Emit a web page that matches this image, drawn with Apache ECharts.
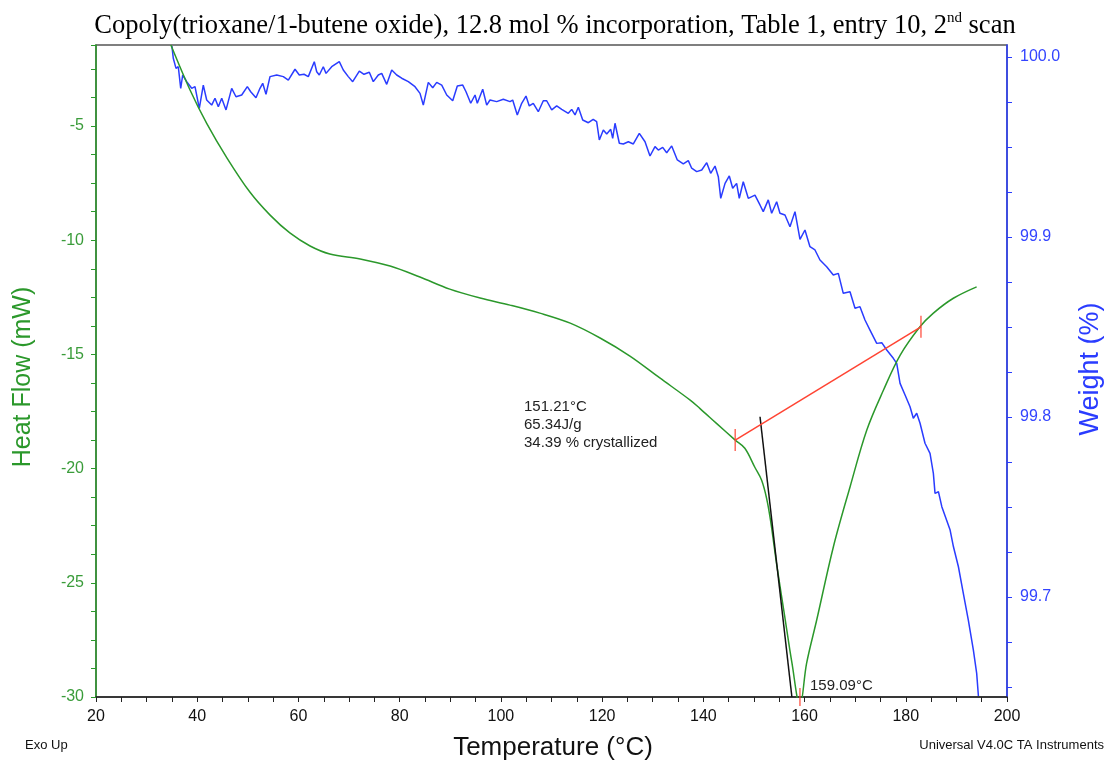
<!DOCTYPE html>
<html><head><meta charset="utf-8">
<script src="https://cdn.jsdelivr.net/npm/echarts@6/dist/echarts.min.js"></script>
<style>html,body{margin:0;padding:0;background:#fff}#c{width:1110px;height:767px}</style>
</head><body><div id="c"></div>
<script>
// Heat flow (mW) vs temperature (°C)
const heatT = [34.8, 38.58, 41.87, 45.89, 50.4, 54.4, 58.3, 62.3, 66.2, 72.2, 78.1, 84.0, 89.9, 95.9, 101.8, 107.7, 113.7, 119.6, 125.5, 131.4, 137.4, 139.3, 142.6, 146.3, 148.2, 150.2, 151.5, 152.5, 153.3, 154.5, 156.1, 157.5, 159.09, 160.4, 162.4, 165.7, 169.0, 172.3, 175.6, 178.9, 182.8, 185.4, 189.4, 194.0];
const heatV = [-1.45, -3.42, -4.88, -6.40, -7.89, -8.9, -9.68, -10.25, -10.6, -10.82, -11.13, -11.61, -12.14, -12.53, -12.84, -13.19, -13.63, -14.28, -15.07, -16.03, -17.0, -17.36, -18.02, -18.75, -19.11, -19.95, -20.5, -21.3, -22.3, -24.2, -26.5, -28.5, -30.4, -28.53, -26.63, -23.42, -20.79, -18.31, -16.56, -15.03, -13.79, -13.2, -12.54, -12.04];

// Weight (%) vs temperature (°C)
const weightT = [35.0, 35.27, 35.81, 36.26, 36.74, 37.13, 37.92, 38.91, 39.56, 40.41,
 41.20, 41.87, 42.86, 43.51, 44.17, 44.84, 45.69, 46.81, 47.66, 48.79,
 49.90, 50.57, 51.61, 52.40, 52.94, 53.59, 54.38, 55.71, 57.01, 58.00,
 59.32, 60.17, 61.10, 61.95, 63.13, 63.61, 64.12, 64.91, 65.45, 66.57,
 68.07, 68.86, 69.85, 70.72, 72.03, 72.95, 74.00, 74.79, 75.78, 76.45,
 77.44, 78.43, 79.42, 80.40, 81.71, 83.03, 84.02, 84.67, 85.66, 86.53,
 87.32, 88.31, 89.30, 90.48, 91.39, 92.46, 93.11, 94.04, 94.89, 95.34,
 96.41, 97.20, 97.85, 99.17, 100.48, 101.80, 102.33, 103.24, 104.11, 104.96,
 105.61, 106.40, 107.39, 108.38, 109.05, 110.04, 111.03, 112.02, 113.32, 113.99,
 114.65, 115.30, 116.17, 117.28, 118.24, 118.92, 119.45, 120.24, 120.91, 121.70,
 122.09, 122.55, 123.40, 124.19, 125.18, 126.17, 127.35, 128.48, 129.46, 130.45,
 131.11, 131.97, 132.76, 133.75, 134.86, 136.04, 137.03, 137.70, 138.69, 139.68,
 140.67, 141.45, 142.31, 142.96, 143.44, 144.29, 145.13, 145.80, 146.58, 147.10,
 147.89, 148.88, 150.20, 151.19, 151.84, 152.83, 153.50, 154.49, 155.14, 156.13,
 157.12, 158.11, 159.10, 160.08, 161.07, 162.06, 163.05, 164.37, 165.68, 166.67,
 167.65, 168.98, 169.97, 170.95, 171.94, 172.93, 174.26, 175.25, 176.24, 177.54,
 178.21, 178.87, 179.86, 180.84, 181.49, 182.16, 182.82, 183.80, 184.79, 185.45,
 185.78, 186.45, 187.12, 188.76, 189.42, 190.40, 191.37, 192.36, 193.35, 194.01,
 194.35];
const weightV = [100.006, 99.9993, 99.9937, 99.9946, 99.9826, 99.9900, 99.9863, 99.9826, 99.9835, 99.9715,
 99.9844, 99.9761, 99.9733, 99.9771, 99.9724, 99.9771, 99.9706, 99.9826, 99.9779, 99.9789,
 99.9835, 99.9807, 99.9774, 99.9826, 99.9854, 99.9793, 99.9891, 99.9900, 99.9891, 99.9872,
 99.9932, 99.9900, 99.9904, 99.9891, 99.9974, 99.9918, 99.9900, 99.9946, 99.9909, 99.9946,
 99.9974, 99.9928, 99.9891, 99.9863, 99.9922, 99.9904, 99.9915, 99.9863, 99.9900, 99.9909,
 99.9848, 99.9928, 99.9900, 99.9882, 99.9863, 99.9835, 99.9798, 99.9733, 99.9859, 99.9829,
 99.9859, 99.9844, 99.9789, 99.9757, 99.9839, 99.9844, 99.9807, 99.9743, 99.9789, 99.9743,
 99.9821, 99.9733, 99.9761, 99.9752, 99.9765, 99.9752, 99.9761, 99.9678, 99.9743, 99.9783,
 99.9728, 99.9743, 99.9696, 99.9757, 99.9757, 99.9706, 99.9728, 99.9709, 99.9687, 99.9709,
 99.9678, 99.9721, 99.9650, 99.9635, 99.9654, 99.9641, 99.9539, 99.9594, 99.9572, 99.9598,
 99.9548, 99.9632, 99.9521, 99.9517, 99.9529, 99.9517, 99.9576, 99.9529, 99.9450, 99.9502,
 99.9483, 99.9498, 99.9468, 99.9506, 99.9428, 99.9406, 99.9424, 99.9382, 99.9363, 99.9372,
 99.9413, 99.9354, 99.9394, 99.9335, 99.9215, 99.9298, 99.9339, 99.9271, 99.9298, 99.9215,
 99.9307, 99.9215, 99.9233, 99.9178, 99.9141, 99.9206, 99.9132, 99.9196, 99.9132, 99.9122,
 99.9057, 99.9141, 99.8987, 99.9039, 99.8946, 99.8928, 99.8872, 99.8835, 99.8789, 99.8798,
 99.8687, 99.8696, 99.8604, 99.8613, 99.8539, 99.8483, 99.8409, 99.8413, 99.8372, 99.8326,
 99.8298, 99.8187, 99.8122, 99.8057, 99.7993, 99.8021, 99.7965, 99.7854, 99.7798, 99.7687,
 99.7576, 99.7585, 99.7502, 99.7372, 99.7279, 99.7168, 99.7020, 99.6872, 99.6706, 99.6576,
 99.645];

// Analysis marks
const baselineT = [146.3, 183.0];
const baselineV = [-18.75, -13.79];
const tangentT = [151.2, 157.5];
const tangentV = [-17.73, -30.0];
const peakT = [159.09];
const peakV = [-30.0];

// Texts
const titleMain = 'Copoly(trioxane/1-butene oxide), 12.8 mol % incorporation, Table 1, entry 10, 2';
const titleSup = 'nd';
const titleEnd = ' scan';
const onsetText = ['151.21°C', '65.34J/g', '34.39 % crystallized'];
const peakText = '159.09°C';
const xName = 'Temperature (°C)';
const yLeftName = 'Heat Flow (mW)';
const yRightName = 'Weight (%)';
const cornerLeft = 'Exo Up';
const cornerRight = 'Universal V4.0C TA Instruments';

const zip = (a, b) => a.map((v, i) => [v, b[i]]);
const GREEN = '#2b982b', BLUE = '#2a3cff', RED = '#ff4433';
const SANS = '"Liberation Sans", Arial, sans-serif';
const SERIF = '"Liberation Serif", "Times New Roman", serif';

const chart = echarts.init(document.getElementById('c'), null, {renderer: 'canvas'});
const option = {
  animation: false,
  backgroundColor: '#fff',
  title: {
    left: 'center', top: 6,
    text: '{a|' + titleMain + '}{s|' + titleSup + '}{a|' + titleEnd + '}',
    textStyle: {
      fontWeight: 'normal',
      rich: {
        a: {fontFamily: SERIF, fontSize: 26.5, fontWeight: 'normal', color: '#000', lineHeight: 30},
        s: {fontFamily: SERIF, fontSize: 15, fontWeight: 'normal', color: '#000', verticalAlign: 'top', lineHeight: 15}
      }
    }
  },
  grid: [
    {left: 96, right: 103, top: 45, bottom: 70, show: true, borderColor: '#555', borderWidth: 1.5, backgroundColor: 'transparent'},
    {left: 96, right: 103, top: 57, bottom: 80}
  ],
  xAxis: [
    {gridIndex: 0, type: 'value', min: 20, max: 200, interval: 5,
     axisLine: {show: true, lineStyle: {color: '#222', width: 1.5}},
     axisTick: {show: true, length: 5, lineStyle: {color: '#222'}},
     axisLabel: {formatter: v => (Math.abs(v % 20) < 1e-6 ? String(v) : ''), color: '#111', fontSize: 16, fontFamily: SANS, margin: 12},
     splitLine: {show: false}},
    {gridIndex: 1, type: 'value', min: 20, max: 200, show: false}
  ],
  yAxis: [
    {gridIndex: 0, type: 'value', position: 'left', min: -30, max: -1.45, interval: 1.25,
     axisLine: {show: true, lineStyle: {color: GREEN, width: 1.5}},
     axisTick: {show: true, length: 5, lineStyle: {color: GREEN}},
     axisLabel: {formatter: v => (Math.abs(v / 5 - Math.round(v / 5)) < 1e-6 ? String(Math.round(v)) : ''), color: '#3a9c3a', fontSize: 16, fontFamily: SANS, margin: 12},
     splitLine: {show: false}},
    {gridIndex: 0, type: 'value', position: 'right', min: 0, max: 1,
     axisLine: {show: true, lineStyle: {color: BLUE, width: 1.5}},
     axisTick: {show: false}, axisLabel: {show: false}, splitLine: {show: false}},
    {gridIndex: 1, type: 'value', position: 'right', min: 99.65, max: 100.0, interval: 0.025,
     axisLine: {show: false},
     axisTick: {show: true, length: 5, lineStyle: {color: BLUE}},
     axisLabel: {formatter: v => (Math.abs(v * 10 - Math.round(v * 10)) < 1e-6 ? v.toFixed(1) : ''), color: '#3344ff', fontSize: 16, fontFamily: SANS, margin: 13},
     splitLine: {show: false}}
  ],
  series: [
    {type: 'line', xAxisIndex: 1, yAxisIndex: 2, data: zip(weightT, weightV), showSymbol: false, clip: false,
     lineStyle: {color: BLUE, width: 1.5}, z: 2},
    {type: 'line', xAxisIndex: 0, yAxisIndex: 0, data: zip(heatT, heatV), showSymbol: false, smooth: 0.35,
     lineStyle: {color: GREEN, width: 1.5}, z: 3},
    {type: 'line', xAxisIndex: 0, yAxisIndex: 0, data: zip(tangentT, tangentV), showSymbol: false,
     lineStyle: {color: '#111', width: 1.5}, z: 4},
    {type: 'line', xAxisIndex: 0, yAxisIndex: 0, data: zip(baselineT, baselineV), showSymbol: false,
     lineStyle: {color: RED, width: 1.5}, z: 4},
    {type: 'scatter', xAxisIndex: 0, yAxisIndex: 0, data: zip(baselineT, baselineV), symbol: 'rect', symbolSize: [1.5, 22],
     itemStyle: {color: RED}, clip: false, z: 5},
    {type: 'scatter', xAxisIndex: 0, yAxisIndex: 0, data: zip(peakT, peakV), symbol: 'rect', symbolSize: [1.5, 18],
     itemStyle: {color: RED}, clip: false, z: 5}
  ],
  graphic: [
    {type: 'text', left: 524, top: 398, style: {text: onsetText.join('\n'), font: '15px ' + SANS, fill: '#222', lineHeight: 18}},
    {type: 'text', left: 810, top: 678, style: {text: peakText, font: '15px ' + SANS, fill: '#222'}},
    {type: 'text', x: 23, y: 377, rotation: Math.PI / 2, style: {text: yLeftName, font: '25px ' + SANS, fill: GREEN, align: 'center', verticalAlign: 'middle'}},
    {type: 'text', x: 1091, y: 369, rotation: Math.PI / 2, style: {text: yRightName, font: '27px ' + SANS, fill: BLUE, align: 'center', verticalAlign: 'middle'}},
    {type: 'text', x: 553, y: 748, style: {text: xName, font: '26px ' + SANS, fill: '#111', align: 'center', verticalAlign: 'middle'}},
    {type: 'text', x: 25, y: 745, style: {text: cornerLeft, font: '13px ' + SANS, fill: '#111', align: 'left', verticalAlign: 'middle'}},
    {type: 'text', x: 1104, y: 745, style: {text: cornerRight, font: '13px ' + SANS, fill: '#111', align: 'right', verticalAlign: 'middle'}}
  ]
};
chart.setOption(option);
</script>
</body></html>
